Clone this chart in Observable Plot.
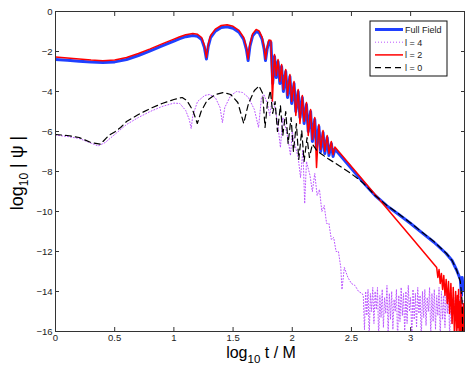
<!DOCTYPE html>
<html>
<head>
<meta charset="utf-8">
<script src="https://cdn.jsdelivr.net/npm/d3@7"></script>
<script src="https://cdn.jsdelivr.net/npm/@observablehq/plot@0.6"></script>
<style>
  html, body { margin: 0; padding: 0; background: #fff; }
</style>
</head>
<body>
<div id="chart"></div>
<script>
// ---- tick values ----
const xTicks = [0, 0.5, 1, 1.5, 2, 2.5, 3];
const yTicks = [0, -2, -4, -6, -8, -10, -12, -14, -16];

// ---- series names ----
const seriesNames = ["Full Field", "l = 4", "l = 2", "l = 0"];

// ---- Full Field (blue) [log10 t/M, log10|psi|] ----
const fullField = [
  [0,-2.4],[0.1,-2.44],[0.2,-2.49],[0.3,-2.53],[0.4,-2.55],[0.5,-2.52],[0.6,-2.4],[0.7,-2.2],
  [0.8,-1.97],[0.9,-1.72],[1.0,-1.48],[1.05,-1.36],[1.1,-1.26],[1.16,-1.2],[1.2,-1.24],
  [1.235,-1.4],[1.258,-1.8],[1.275,-2.38],[1.29,-1.75],[1.31,-1.3],[1.35,-0.98],[1.4,-0.8],
  [1.45,-0.76],[1.5,-0.84],[1.55,-1.04],[1.59,-1.4],[1.613,-1.9],[1.627,-2.45],[1.642,-1.75],
  [1.665,-1.22],[1.695,-1.0],[1.72,-1.07],[1.745,-1.38],[1.763,-1.9],[1.774,-2.45],[1.787,-1.9],
  [1.803,-1.52],[1.82,-1.55],
  [1.835,-3.6],[1.85,-2.25],[1.865,-3.3],[1.88,-2.5],[1.895,-3.6],[1.91,-2.75],[1.925,-4.0],
  [1.945,-3.0],[1.96,-4.3],[1.98,-3.25],[1.995,-4.6],[2.015,-3.6],[2.03,-5.0],[2.05,-4.0],
  [2.065,-5.3],[2.085,-4.3],[2.1,-5.6],[2.12,-4.65],[2.135,-6.0],[2.155,-5.0],[2.17,-6.5],
  [2.19,-5.4],[2.205,-6.8],[2.225,-5.75],[2.24,-7.0],[2.26,-6.05],[2.275,-7.1],[2.295,-6.3],
  [2.31,-7.2],[2.33,-6.6],[2.345,-7.25],[2.36,-6.88],
  [2.5,-7.85],[2.6,-8.55],[2.7,-9.2],[2.8,-9.72],[2.9,-10.15],[3.0,-10.6],[3.1,-11.08],
  [3.2,-11.55],[3.3,-12.1],[3.35,-12.45],[3.39,-12.95],[3.42,-13.4],[3.43,-14.2],[3.435,-13.3],
  [3.445,-13.9],[3.455,-13.7]
];

// ---- l = 4 (magenta dotted) ----
const l4 = [
  [0,-6.18],[0.1,-6.25],[0.2,-6.35],[0.3,-6.58],[0.36,-6.72],[0.42,-6.55],[0.5,-6.15],[0.6,-5.65],
  [0.7,-5.3],[0.8,-5.0],[0.9,-4.75],[1.0,-4.58],[1.05,-4.6],[1.1,-4.95],[1.13,-5.4],[1.146,-5.85],
  [1.16,-5.2],[1.2,-4.5],[1.26,-4.2],[1.3,-4.15],[1.35,-4.3],[1.39,-4.8],[1.41,-5.55],[1.43,-4.8],
  [1.48,-4.2],[1.53,-4.0],[1.58,-4.05],[1.63,-4.3],[1.68,-4.9],[1.715,-5.8],[1.74,-4.3],[1.76,-4.15],
  [1.79,-4.6],[1.81,-5.2],[1.83,-4.4],[1.85,-4.7],[1.875,-5.5],[1.9,-6.8],[1.92,-5.3],[1.94,-5.7],
  [1.965,-6.4],[1.985,-7.2],[2.0,-6.0],[2.02,-6.6],[2.05,-7.3],[2.07,-8.3],[2.09,-6.9],[2.105,-9.6],
  [2.12,-7.5],[2.15,-8.2],[2.17,-9.0],[2.19,-8.1],[2.21,-9.2],[2.23,-8.9],[2.25,-10.0],[2.27,-9.7],
  [2.29,-10.6],[2.31,-10.6],[2.33,-11.4],[2.35,-11.3],[2.37,-12.0],[2.39,-12.0],[2.41,-12.8],
  [2.42,-13.9],[2.44,-12.8],[2.47,-13.3],[2.5,-13.6],[2.53,-13.7],[2.56,-14.0],[2.59,-14.1],
  [2.6,-14.2],[2.61,-15.9],[2.62,-14.0],[2.63,-15.2],[2.64,-13.9],[2.65,-16.3],[2.66,-14.1],
  [2.67,-15.0],[2.68,-13.8],[2.69,-15.6],[2.70,-14.0],[2.71,-14.9],[2.72,-13.8],[2.73,-16.4],
  [2.74,-14.2],[2.75,-15.3],[2.76,-13.9],[2.77,-15.8],[2.78,-14.3],[2.79,-15.1],[2.80,-13.7],
  [2.81,-16.2],[2.82,-14.1],[2.83,-15.4],[2.84,-14.0],[2.85,-15.9],[2.86,-14.4],[2.87,-15.0],
  [2.88,-13.9],[2.89,-16.5],[2.90,-14.2],[2.91,-15.5],[2.92,-13.8],[2.93,-15.2],[2.94,-14.1],
  [2.95,-16.1],[2.96,-14.0],[2.97,-15.6],[2.98,-13.7],[2.99,-15.0],[3.00,-14.3],[3.01,-16.3],
  [3.02,-13.9],[3.03,-15.4],[3.04,-14.1],[3.05,-15.8],[3.06,-13.8],[3.07,-15.1],[3.08,-14.2],
  [3.09,-16.4],[3.10,-14.0],[3.11,-15.3],[3.12,-13.9],[3.13,-15.7],[3.14,-14.3],[3.15,-15.0],
  [3.16,-13.8],[3.17,-16.2],[3.18,-14.1],[3.19,-15.5],[3.20,-13.9],[3.21,-15.9],[3.22,-14.2],
  [3.23,-15.2],[3.24,-13.8],[3.25,-16.3],[3.26,-14.0],[3.27,-15.4],[3.28,-14.2],[3.29,-15.8],
  [3.30,-13.9],[3.31,-15.1],[3.32,-14.1],[3.33,-16.4],[3.34,-13.8],[3.35,-15.6],[3.36,-14.3],
  [3.37,-15.0],[3.38,-14.0],[3.39,-16.2],[3.40,-14.2],[3.41,-15.5],[3.42,-14.0],[3.43,-15.9],
  [3.44,-14.4],[3.45,-16.3]
];

// ---- l = 2 (red) ----
const l2 = [
  [0,-2.28],[0.1,-2.33],[0.2,-2.38],[0.3,-2.43],[0.4,-2.46],[0.5,-2.42],[0.6,-2.3],[0.7,-2.1],
  [0.8,-1.87],[0.9,-1.62],[1.0,-1.38],[1.05,-1.26],[1.1,-1.16],[1.16,-1.1],[1.2,-1.14],
  [1.235,-1.3],[1.258,-1.7],[1.275,-2.3],[1.29,-1.65],[1.31,-1.2],[1.35,-0.88],[1.4,-0.7],
  [1.45,-0.66],[1.5,-0.74],[1.55,-0.94],[1.59,-1.3],[1.613,-1.8],[1.627,-2.38],[1.642,-1.65],
  [1.665,-1.12],[1.695,-0.9],[1.72,-0.97],[1.745,-1.28],[1.763,-1.8],[1.774,-2.38],[1.787,-1.8],
  [1.803,-1.42],[1.82,-1.45],
  [1.832,-4.47],[1.85,-2.15],[1.865,-3.2],[1.88,-2.4],[1.895,-3.5],[1.91,-2.65],[1.925,-3.9],
  [1.945,-2.9],[1.96,-4.2],[1.98,-3.15],[1.995,-4.5],[2.015,-3.5],[2.03,-5.2],[2.05,-3.9],
  [2.065,-5.6],[2.085,-4.2],[2.1,-5.5],[2.12,-4.55],[2.135,-6.2],[2.155,-4.9],[2.17,-6.4],
  [2.19,-5.3],[2.205,-7.8],[2.225,-5.65],[2.24,-6.9],[2.26,-5.95],[2.275,-7.0],[2.295,-6.2],
  [2.31,-7.1],[2.33,-6.5],[2.345,-7.15],[2.36,-6.78],
  [2.6,-8.45],[2.8,-9.85],[3.0,-11.25],[3.22,-12.8],
  [3.23,-13.3],[3.24,-12.9],[3.25,-13.6],[3.26,-13.1],[3.27,-13.9],[3.28,-13.2],[3.29,-14.2],
  [3.3,-13.4],[3.31,-14.6],[3.32,-13.5],[3.33,-15.1],[3.34,-13.6],[3.35,-15.6],[3.36,-13.8],
  [3.37,-16.2],[3.38,-14.0],[3.39,-16.3],[3.395,-14.2],[3.4,-15.8],[3.405,-13.9],[3.41,-16.3],
  [3.415,-14.5],[3.42,-16.4],[3.425,-14.0],[3.43,-16.3],[3.435,-14.8],[3.44,-16.4],[3.445,-14.6],
  [3.45,-16.3],[3.455,-15.0]
];

// ---- l = 0 (black dashed) ----
const l0 = [
  [0,-6.15],[0.1,-6.2],[0.2,-6.3],[0.3,-6.55],[0.38,-6.63],[0.45,-6.2],[0.5,-6.02],[0.55,-5.8],
  [0.6,-5.5],[0.7,-5.15],[0.8,-4.85],[0.9,-4.6],[1.0,-4.4],[1.07,-4.3],[1.11,-4.45],[1.16,-4.95],
  [1.198,-5.6],[1.23,-5.0],[1.28,-4.45],[1.35,-4.15],[1.42,-4.05],[1.48,-4.15],[1.54,-4.55],
  [1.59,-5.6],[1.63,-4.6],[1.68,-3.95],[1.72,-3.72],[1.75,-4.1],[1.77,-5.8],[1.79,-4.6],
  [1.815,-3.95],[1.835,-5.1],[1.855,-4.5],[1.875,-6.0],[1.9,-4.7],[1.92,-6.2],[1.945,-5.0],
  [1.965,-6.6],[1.99,-5.3],[2.01,-7.0],[2.035,-5.6],[2.055,-7.4],[2.08,-5.95],[2.1,-7.5],
  [2.125,-6.3],[2.145,-7.3],[2.17,-6.63],[2.21,-6.97],[2.3,-7.35],[2.4,-7.72],[2.5,-8.12],
  [2.56,-8.38],[2.6,-8.58],[2.7,-9.2],[2.8,-9.7],[2.9,-10.12],[3.0,-10.57],[3.1,-11.05],
  [3.2,-11.52],[3.3,-12.08],[3.35,-12.45],[3.39,-12.95],[3.42,-13.5],[3.435,-14.5],[3.44,-16.2]
];

const colors = {"Full Field": "#2040ff", "l = 4": "#bb55ff", "l = 2": "#ff0000", "l = 0": "#000000"};
const widths = {"Full Field": 3, "l = 4": 1, "l = 2": 1.5, "l = 0": 1.2};
const dashes = {"Full Field": null, "l = 4": "1,2", "l = 2": null, "l = 0": "6,4"};

const xy = {x: d => d[0], y: d => d[1]};
const fmtY = d => d === 0 ? "0" : "\u2212" + Math.abs(d);

const svg = Plot.plot({
  width: 471,
  height: 369,
  marginLeft: 55,
  marginRight: 7,
  marginTop: 11,
  marginBottom: 38,
  x: {domain: [0, 3.455]},
  y: {domain: [-16, 0]},
  style: {fontFamily: "'Liberation Sans', Arial, Helvetica, sans-serif", fontSize: "9.5px", background: "white", color: "#222"},
  marks: [
    Plot.line(fullField, {...xy, stroke: colors["Full Field"], strokeWidth: widths["Full Field"], clip: true}),
    Plot.line(l4, {...xy, stroke: colors["l = 4"], strokeWidth: widths["l = 4"], strokeDasharray: dashes["l = 4"], clip: true}),
    Plot.line(l2, {...xy, stroke: colors["l = 2"], strokeWidth: widths["l = 2"], clip: true}),
    Plot.line(l0, {...xy, stroke: colors["l = 0"], strokeWidth: widths["l = 0"], strokeDasharray: dashes["l = 0"], clip: true}),
    Plot.frame({stroke: "#333", strokeWidth: 1}),
    Plot.axisX(xTicks, {anchor: "bottom", tickSize: -4, tickPadding: 7, label: null, tickFormat: d => String(d), stroke: "#333"}),
    Plot.axisX(xTicks, {anchor: "top", tickSize: -4, label: null, tickFormat: () => "", stroke: "#333"}),
    Plot.axisY(yTicks, {anchor: "left", tickSize: -4, tickPadding: 7, label: null, tickFormat: fmtY, stroke: "#333"}),
    Plot.axisY(yTicks, {anchor: "right", tickSize: -4, label: null, tickFormat: () => "", stroke: "#333"})
  ]
});

const s = d3.select(svg);
const ff = "'Liberation Sans', Arial, Helvetica, sans-serif";

// y label
const yl = s.append("text")
  .attr("transform", "translate(23,173) rotate(-90)")
  .attr("text-anchor", "middle")
  .attr("font-family", ff).attr("font-size", 18).attr("fill", "#000");
yl.append("tspan").text("log");
yl.append("tspan").attr("font-size", 12).attr("dy", 5).text("10");
yl.append("tspan").attr("dy", -5).text(" | \u03C8 |");

// x label
const xl = s.append("text")
  .attr("x", 261).attr("y", 358)
  .attr("text-anchor", "middle")
  .attr("font-family", ff).attr("font-size", 16).attr("fill", "#000");
xl.append("tspan").text("log");
xl.append("tspan").attr("font-size", 11.5).attr("dy", 5).text("10");
xl.append("tspan").attr("dy", -5).text(" t / M");

// legend
const lg = s.append("g");
lg.append("rect").attr("x", 370).attr("y", 21).attr("width", 77).attr("height", 55)
  .attr("fill", "#fff").attr("stroke", "#111").attr("stroke-width", 1);
seriesNames.forEach((name, i) => {
  const yy = 29.5 + i * 12.7;
  lg.append("line").attr("x1", 375).attr("x2", 403).attr("y1", yy).attr("y2", yy)
    .attr("stroke", colors[name]).attr("stroke-width", widths[name])
    .attr("stroke-dasharray", dashes[name]);
  lg.append("text").attr("x", 405).attr("y", yy + 3.3)
    .attr("text-anchor", "start")
    .attr("font-family", ff).attr("font-size", 9).attr("fill", "#222").text(name);
});

document.getElementById("chart").appendChild(svg);
</script>
</body>
</html>
